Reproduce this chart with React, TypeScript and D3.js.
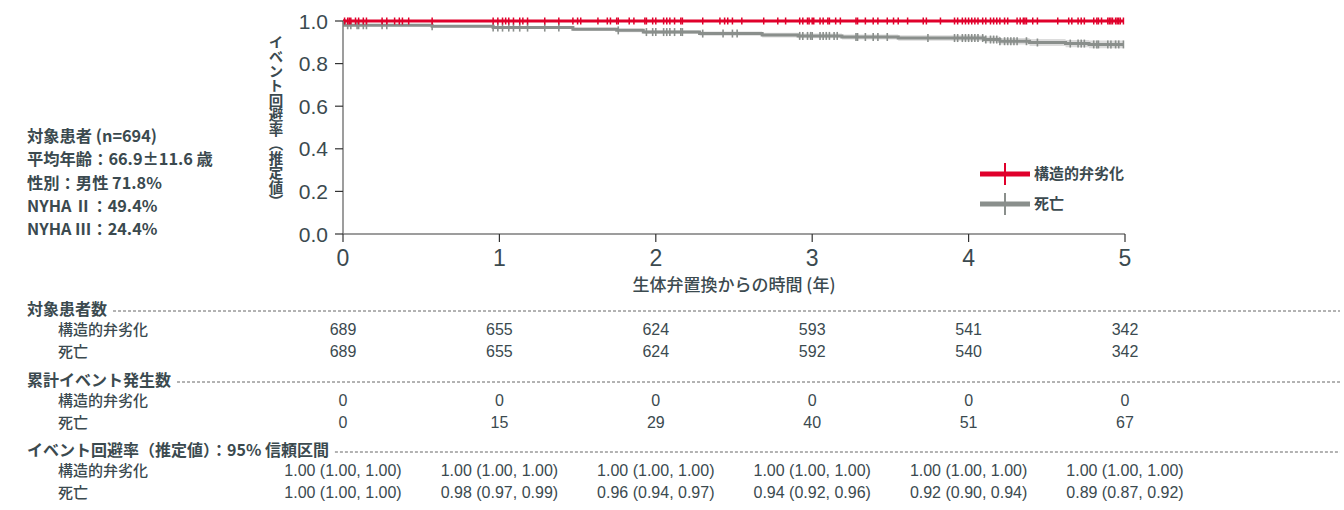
import React, { useLayoutEffect, useRef, useState } from "react";
import * as d3 from "d3";

// at-risk table
const years = [0, 1, 2, 3, 4, 5];
const seriesNames = ["構造的弁劣化", "死亡"];
const atRiskSvd = [689, 655, 624, 593, 541, 342];
const atRiskDeath = [689, 655, 624, 592, 540, 342];
const eventsSvd = [0, 0, 0, 0, 0, 0];
const eventsDeath = [0, 15, 29, 40, 51, 67];
const estSvd = ["1.00 (1.00, 1.00)", "1.00 (1.00, 1.00)", "1.00 (1.00, 1.00)", "1.00 (1.00, 1.00)", "1.00 (1.00, 1.00)", "1.00 (1.00, 1.00)"];
const estDeath = ["1.00 (1.00, 1.00)", "0.98 (0.97, 0.99)", "0.96 (0.94, 0.97)", "0.94 (0.92, 0.96)", "0.92 (0.90, 0.94)", "0.89 (0.87, 0.92)"];
const yTicks = [0, 0.2, 0.4, 0.6, 0.8, 1.0];

// KM curve for death
const deathTimes = [0, 0.01, 0.57, 0.96, 1.47, 1.75, 1.92, 2.28, 2.68, 2.91, 3.19, 3.55, 4.1, 4.2, 4.39, 4.62, 4.77];
const deathSurv = [1.0, 0.98, 0.975, 0.969, 0.961, 0.956, 0.948, 0.941, 0.934, 0.93, 0.925, 0.92, 0.913, 0.905, 0.899, 0.894, 0.89];
const deathLower = [1.0, 0.975, 0.969, 0.962, 0.953, 0.947, 0.939, 0.931, 0.923, 0.919, 0.913, 0.907, 0.899, 0.89, 0.883, 0.877, 0.872];
const deathUpper = [1.0, 0.985, 0.981, 0.976, 0.969, 0.965, 0.957, 0.951, 0.945, 0.941, 0.937, 0.933, 0.927, 0.92, 0.915, 0.911, 0.908];
const curveEnd = 4.99;

const svdCensor = [0.01, 0.03, 0.04, 0.05, 0.08, 0.1, 0.13, 0.15, 0.25, 0.28, 0.33, 0.36, 0.38, 0.42, 0.57, 0.96, 0.99, 1.02, 1.04, 1.06, 1.09, 1.13, 1.15, 1.18, 1.29, 1.38, 1.47, 1.5, 1.52, 1.63, 1.69, 1.71, 1.75, 1.76, 1.83, 1.86, 1.93, 1.94, 1.98, 2.0, 2.05, 2.07, 2.09, 2.12, 2.16, 2.17, 2.3, 2.41, 2.44, 2.46, 2.49, 2.55, 2.69, 2.78, 2.83, 2.92, 2.94, 2.97, 2.98, 3.0, 3.01, 3.05, 3.07, 3.1, 3.11, 3.15, 3.18, 3.28, 3.29, 3.34, 3.39, 3.42, 3.48, 3.52, 3.55, 3.61, 3.71, 3.73, 3.82, 3.91, 3.93, 3.96, 3.98, 4.0, 4.02, 4.04, 4.06, 4.09, 4.11, 4.14, 4.16, 4.18, 4.2, 4.23, 4.25, 4.31, 4.33, 4.35, 4.36, 4.37, 4.41, 4.44, 4.57, 4.64, 4.66, 4.7, 4.72, 4.74, 4.8, 4.82, 4.83, 4.85, 4.89, 4.9, 4.91, 4.92, 4.94, 4.95, 4.96, 4.97, 4.99];
const deathCensor = [0.03, 0.05, 0.09, 0.1, 0.13, 0.15, 0.25, 0.28, 0.57, 0.96, 0.99, 1.02, 1.06, 1.09, 1.13, 1.18, 1.29, 1.38, 1.76, 1.94, 1.98, 2.0, 2.05, 2.07, 2.09, 2.12, 2.16, 2.17, 2.3, 2.43, 2.49, 2.52, 2.92, 2.94, 2.97, 2.99, 3.0, 3.05, 3.07, 3.09, 3.11, 3.14, 3.16, 3.28, 3.29, 3.34, 3.39, 3.42, 3.48, 3.74, 3.91, 3.93, 3.96, 3.98, 4.0, 4.02, 4.04, 4.06, 4.09, 4.11, 4.14, 4.16, 4.18, 4.2, 4.23, 4.25, 4.27, 4.29, 4.31, 4.37, 4.44, 4.65, 4.7, 4.72, 4.74, 4.8, 4.82, 4.83, 4.89, 4.91, 4.94, 4.96, 4.99];

const RED = "#e0002b";
const GRAY = "#8a8f8c";
const BAND = "#dcdcdc";
const TEXT = "#3b4a4f";
const AXIS = "#7d7d7d";
const CJK = "'Noto Sans CJK JP', 'Noto Sans', sans-serif";
const NUM = "'Liberation Sans Narrow', 'Liberation Sans', Roboto, sans-serif";

const x = d3.scaleLinear().domain([0, 5]).range([343, 1125]);
const y = d3.scaleLinear().domain([0, 1]).range([234, 21]);

const survAt = (t: number) => {
  const i = d3.bisectRight(deathTimes, t) - 1;
  return deathSurv[Math.max(0, i)];
};

const yLabel = "イベント回避率（推定値）";
const infoLines = ["対象患者 (n=694)", "平均年齢：66.9±11.6 歳", "性別：男性 71.8%", "NYHA Ⅱ：49.4%", "NYHA Ⅲ：24.4%"];

const sections = [
  { title: "対象患者数", rows: [atRiskSvd, atRiskDeath], y: 309 },
  { title: "累計イベント発生数", rows: [eventsSvd, eventsDeath], y: 380 },
  { title: "イベント回避率（推定値）：95% 信頼区間", rows: [estSvd, estDeath], y: 450 },
];

export default function App() {
  const titleRefs = useRef<(SVGTextElement | null)[]>([]);
  const [titleEnds, setTitleEnds] = useState<number[]>([122, 190, 355]);

  useLayoutEffect(() => {
    const ends = titleRefs.current.map((el, i) => (el ? 27 + el.getComputedTextLength() + 6 : titleEnds[i]));
    setTitleEnds(ends);
  }, []);

  const pts: [number, number][] = deathTimes.map((t, i) => [t, deathSurv[i]]);
  pts.push([curveEnd, deathSurv[deathSurv.length - 1]]);
  const line = d3
    .line<[number, number]>()
    .x((d) => x(d[0]))
    .y((d) => y(d[1]))
    .curve(d3.curveStepAfter);

  const bandPts = deathTimes.map((t, i) => ({ t, lo: deathLower[i], hi: deathUpper[i] }));
  bandPts.push({ t: curveEnd, lo: deathLower[deathLower.length - 1], hi: deathUpper[deathUpper.length - 1] });
  const band = d3
    .area<{ t: number; lo: number; hi: number }>()
    .x((d) => x(d.t))
    .y0((d) => y(d.lo))
    .y1((d) => y(d.hi))
    .curve(d3.curveStepAfter);

  return (
    <svg width={1344} height={510} style={{ position: "absolute", left: 0, top: 0 }}>
      <rect width={1344} height={510} fill="#fff" />

      {/* info block */}
      <g fontFamily={CJK} fontWeight={700} fontSize={16.3} fill={TEXT}>
        {infoLines.map((s, i) => (
          <text key={i} x={27} y={142 + i * 23.3}>
            {s}
          </text>
        ))}
      </g>

      {/* y label, vertical writing */}
      <text
        x={276}
        y={35}
        fontFamily={CJK}
        fontWeight={700}
        fontSize={14.5}
        fill={TEXT}
        style={{ writingMode: "vertical-rl" }}
      >
        {yLabel}
      </text>

      {/* CI band + curves */}
      <path d={band(bandPts) || ""} fill={BAND} />
      <path d={line(pts) || ""} fill="none" stroke={GRAY} strokeWidth={3} />
      {deathCensor.map((t, i) => (
        <line key={i} x1={x(t)} x2={x(t)} y1={y(survAt(t)) - 4} y2={y(survAt(t)) + 4} stroke={GRAY} strokeWidth={1.6} />
      ))}
      <line x1={x(0)} x2={x(curveEnd)} y1={y(1)} y2={y(1)} stroke={RED} strokeWidth={3} />
      {svdCensor.map((t, i) => (
        <line key={i} x1={x(t)} x2={x(t)} y1={y(1) - 3.5} y2={y(1) + 3.5} stroke={RED} strokeWidth={1.5} />
      ))}

      {/* axes */}
      <line x1={x(0)} x2={x(0)} y1={y(1)} y2={y(0)} stroke={AXIS} strokeWidth={1.5} />
      <line x1={x(0)} x2={x(5)} y1={y(0)} y2={y(0)} stroke={AXIS} strokeWidth={1.5} />
      {yTicks.map((v) => (
        <g key={v}>
          <line x1={x(0) - 8} x2={x(0)} y1={y(v)} y2={y(v)} stroke="#333" strokeWidth={1.2} />
          <text x={328} y={y(v)} dy="0.36em" textAnchor="end" fontFamily={NUM} fontSize={21} fill={TEXT}>
            {v.toFixed(1)}
          </text>
        </g>
      ))}
      {years.map((v) => (
        <g key={v}>
          <line x1={x(v)} x2={x(v)} y1={y(0)} y2={y(0) + 8} stroke="#333" strokeWidth={1.2} />
          <text x={x(v)} y={266} textAnchor="middle" fontFamily={NUM} fontSize={23} fill={TEXT}>
            {v}
          </text>
        </g>
      ))}
      <text x={734} y={291} textAnchor="middle" fontFamily={CJK} fontWeight={500} fontSize={17} fill={TEXT}>
        生体弁置換からの時間 (年)
      </text>

      {/* legend */}
      {[RED, GRAY].map((c, i) => (
        <g key={i} transform={`translate(0,${174 + i * 30})`}>
          <line x1={980} x2={1030} y1={0} y2={0} stroke={c} strokeWidth={5} />
          <line x1={1005} x2={1005} y1={-11} y2={11} stroke={c} strokeWidth={2} />
          <text x={1034} y={0} dy="0.35em" fontFamily={CJK} fontWeight={700} fontSize={15} fill={TEXT}>
            {seriesNames[i]}
          </text>
        </g>
      ))}

      {/* table */}
      {sections.map((sec, si) => (
        <g key={si}>
          <text
            ref={(el) => {
              titleRefs.current[si] = el;
            }}
            x={27}
            y={sec.y + 6}
            fontFamily={CJK}
            fontWeight={700}
            fontSize={16}
            fill={TEXT}
          >
            {sec.title}
          </text>
          <line x1={titleEnds[si]} x2={1340} y1={sec.y + 2} y2={sec.y + 2} stroke="#666" strokeWidth={1} strokeDasharray="3 2" />
          {sec.rows.map((row, ri) => (
            <g key={ri}>
              <text x={58} y={sec.y + 26 + ri * 22} fontFamily={CJK} fontWeight={500} fontSize={15} fill={TEXT}>
                {seriesNames[ri]}
              </text>
              {row.map((v, k) => (
                <text key={k} x={x(years[k])} y={sec.y + 26 + ri * 22} textAnchor="middle" fontFamily={NUM} fontSize={16} fill={TEXT}>
                  {v}
                </text>
              ))}
            </g>
          ))}
        </g>
      ))}
    </svg>
  );
}
